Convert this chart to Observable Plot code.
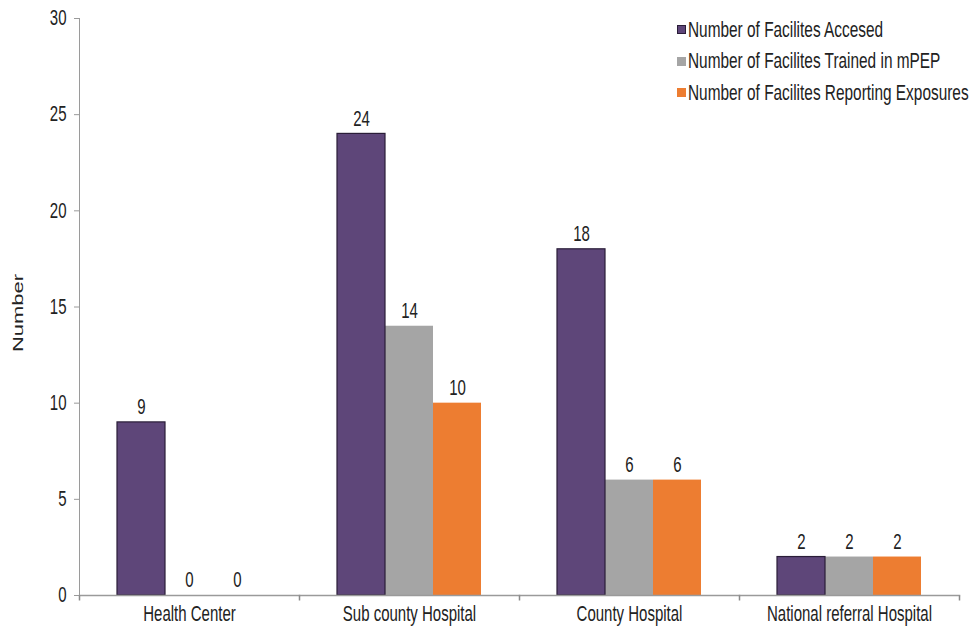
<!DOCTYPE html>
<html>
<head>
<meta charset="utf-8">
<script src="https://cdn.jsdelivr.net/npm/d3@7"></script>
<script src="https://cdn.jsdelivr.net/npm/@observablehq/plot@0.6"></script>
<style>
  html, body { margin: 0; padding: 0; background: #fff; }
  #chart { position: relative; width: 974px; height: 627px; font-family: "Liberation Sans", Arial, sans-serif; }
  #legend { position: absolute; left: 677px; top: 14px; font-size: 15.4px; color: #222; }
  #legend .item { display: flex; align-items: center; height: 31.5px; white-space: nowrap; }
  #legend .sw { width: 9px; height: 9px; margin-right: 2px; box-sizing: border-box; }
  #legend .lbl { display: inline-block; transform: scaleY(1.42); transform-origin: center; }
</style>
</head>
<body>
<div id="chart"><div id="legend"></div></div>
<script>
// Facility types along the x axis
const categories = ["Health Center", "Sub county Hospital", "County Hospital", "National referral Hospital"];
// The three series shown for each facility type
const seriesNames = [
  "Number of Facilites Accesed",
  "Number of Facilites Trained in mPEP",
  "Number of Facilites Reporting Exposures"
];
const accessed = [9, 24, 18, 2];
const trained = [0, 14, 6, 2];
const reporting = [0, 10, 6, 2];
const yTicks = [0, 5, 10, 15, 20, 25, 30];
const colors = ["#5e4679", "#a5a5a5", "#ed7d31"];

// Tall, narrow lettering: glyphs are stretched vertically by this factor
const textStretch = 1.42;

const seriesValues = [accessed, trained, reporting];
const rows = categories.flatMap((category, i) =>
  seriesNames.map((series, j) => ({category, series, value: seriesValues[j][i]}))
);

// Short vertical tick used for the category boundaries on the x axis
const boundaryTick = {
  draw(context) { context.moveTo(0, 0); context.lineTo(0, 5); }
};

const chart = Plot.plot({
  width: 974,
  height: 627,
  marginLeft: 78,
  marginRight: 14,
  marginTop: 18,
  marginBottom: 32,
  style: {fontFamily: "'Liberation Sans', Arial, sans-serif", color: "#222", background: "#fff"},
  fx: {domain: categories, padding: 0, label: null},
  x: {domain: seriesNames, paddingInner: 0, paddingOuter: 0.75, axis: null},
  y: {domain: [0, 30], label: null},
  color: {domain: seriesNames, range: colors},
  marks: [
    Plot.barY(rows, {fx: "category", x: "series", y: "value", fill: "series"}),
    Plot.barY(rows.filter(d => d.series === seriesNames[0]), {
      fx: "category", x: "series", y: "value", fill: "none", stroke: "#2a1d38", strokeWidth: 1.2
    }),
    Plot.text(rows, {
      fx: "category", x: "series", y: "value", text: d => String(d.value),
      dy: -15, fontSize: 15, fill: "#222"
    }),
    // axis lines
    Plot.frame({anchor: "bottom", stroke: "#9a9a9a", strokeWidth: 1.5}),
    Plot.frame({anchor: "left", stroke: "#9a9a9a", facetAnchor: "left"}),
    Plot.dot([0], {frameAnchor: "bottom-left", symbol: boundaryTick, stroke: "#8a8a8a", fill: "none"}),
    Plot.dot([0], {frameAnchor: "bottom-right", symbol: boundaryTick, stroke: "#8a8a8a", fill: "none", facetAnchor: "right"}),
    Plot.axisY({ticks: yTicks, tickSize: 5, tickPadding: 8, fontSize: 15, label: null, stroke: "#9a9a9a"}),
    Plot.axisFx({anchor: "bottom", tickSize: 0, tickPadding: 10, fontSize: 15, label: null}),
    Plot.text(["Number"], {
      frameAnchor: "left", textAnchor: "middle", dx: -61, dy: 6, rotate: -90, fontSize: 15.5, fill: "#222", facetAnchor: "left"
    })
  ]
});

// Stretch every label vertically about its anchor point
chart.querySelectorAll("text").forEach(t => {
  const tr = t.getAttribute("transform");
  if (tr && /^translate\(/.test(tr)) {
    t.setAttribute("transform", tr.replace(/^(translate\([^)]*\))/, `$1 scale(1,${textStretch})`));
  } else {
    const x = +t.getAttribute("x") || 0, y = +t.getAttribute("y") || 0;
    t.setAttribute("transform", `translate(${x},${y}) scale(1,${textStretch}) translate(${-x},${-y})` + (tr ? " " + tr : ""));
  }
});

document.getElementById("chart").prepend(chart);

const legend = document.getElementById("legend");
seriesNames.forEach((name, i) => {
  const item = document.createElement("div");
  item.className = "item";
  const sw = document.createElement("span");
  sw.className = "sw";
  sw.style.background = colors[i];
  if (i === 0) sw.style.border = "1px solid #2a1d38";
  const label = document.createElement("span");
  label.className = "lbl";
  label.textContent = name;
  item.append(sw, label);
  legend.append(item);
});
</script>
</body>
</html>
